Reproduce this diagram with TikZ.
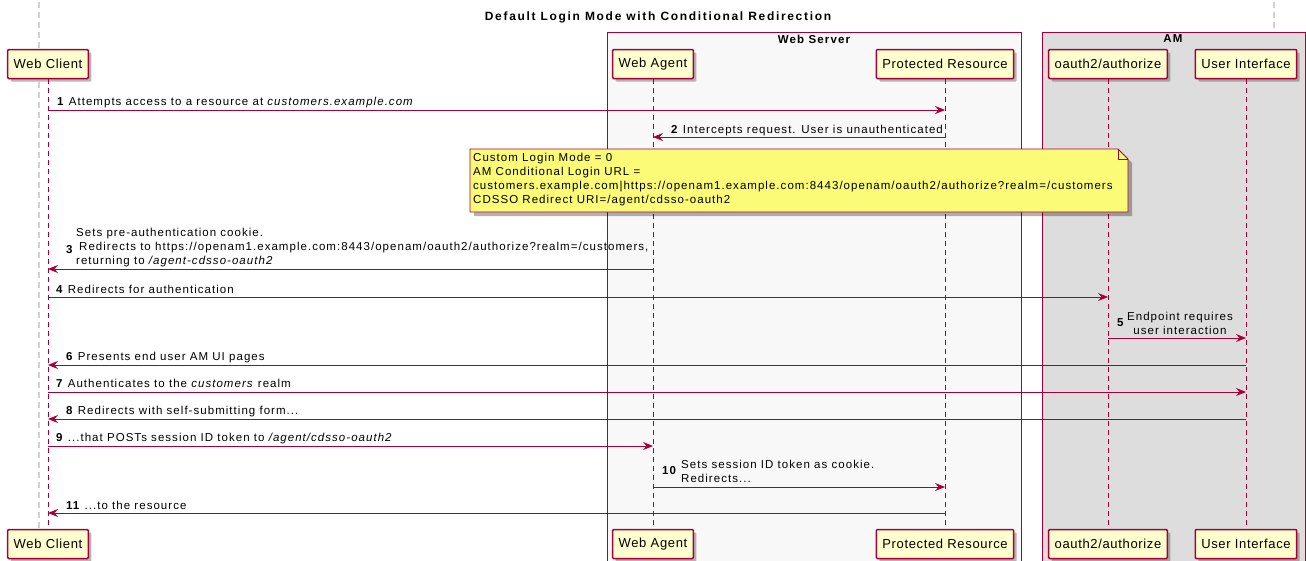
\documentclass[tikz,border=0pt]{standalone}
\usepackage{fontspec}
\setmainfont{Liberation Sans}
\newfontfamily\msgfont[LetterSpace=9]{Liberation Sans}
\newfontfamily\partfont[LetterSpace=5]{Liberation Sans}
\newfontfamily\headfont[LetterSpace=10]{Liberation Sans}
\newfontfamily\titlefont[LetterSpace=14]{Liberation Sans}
\usetikzlibrary{arrows.meta,shadows,positioning}
\definecolor{umlred}{HTML}{A80036}
\definecolor{umlfill}{HTML}{FEFECE}
\definecolor{notefill}{HTML}{FBFB77}
\definecolor{srvfill}{HTML}{F8F8F8}
\definecolor{amfill}{HTML}{DDDDDD}

\begin{document}
\begin{tikzpicture}[x=1pt, y=-1pt,
part/.style = {draw=umlred, fill=umlfill, line width=1.5pt, rounded corners=1pt,
            minimum height=29pt, inner xsep=6pt,
            font=\partfont\fontsize{13}{15}\selectfont,
            drop shadow={shadow xshift=3pt, shadow yshift=-3pt, opacity=0.4, fill=black!70}},
life/.style = {umlred, line width=0.8pt, dash pattern=on 5pt off 4pt},
msg/.style = {umlred, line width=0.9pt, -{Stealth[length=10pt, width=8pt, inset=3.5pt]}},
lbl/.style = {inner sep=0pt, anchor=base west,
            font=\msgfont\fontsize{11.5}{14}\selectfont},
head/.style = {inner sep=0pt, font=\headfont\bfseries\fontsize{11.5}{14}\selectfont},
grp/.style = {draw=umlred, line width=0.8pt}
                ]
    \useasboundingbox (0,0) rectangle (1306,560);

    % outer dashed guides
    \draw[gray!35, line width=1.5pt, dash pattern=on 6pt off 4pt] (39,2) -- (39,560);
    \draw[gray!35, line width=1.5pt, dash pattern=on 6pt off 4pt] (1274,2) -- (1274,560);

    \node[head, font=\titlefont\bfseries\fontsize{12}{14}\selectfont] at (658,17) (title)
        {Default Login Mode with Conditional Redirection};

    % groups
    \draw[grp, fill=srvfill] (607,32) rectangle (1021,566);
    \draw[grp, fill=amfill] (1042,32) rectangle (1305,566);
    \node[head] at (814,39) (srv) {Web Server};
    \node[head] at (1173,39) (am) {AM};

    % participants and lifelines
    \foreach \x/\n/\t in {48/wc/Web Client, 653/wa/Web Agent, 945/pr/Protected Resource,
                          1108/oa/{oauth2/authorize}, 1246/ui/User Interface}{
        \node[part] at (\x,64) (\n) {\t};
        \node[part] at (\x,544) (\n b) {\t};
        \draw[life] (\n) -- (\n b);
    }

    % note
    \def\nl{470} \def\nr{1128} \def\nt{149} \def\nb{212} \def\nf{10}
    \fill[black, opacity=0.3] (\nl+4,\nt+4) -- (\nr+4-\nf,\nt+4) -- (\nr+4,\nt+4+\nf)
        -- (\nr+4,\nb+4) -- (\nl+4,\nb+4) -- cycle;
    \draw[umlred, fill=notefill, line width=0.8pt] (\nl,\nt) -- (\nr-\nf,\nt) -- (\nr,\nt+\nf)
        -- (\nr,\nb) -- (\nl,\nb) -- cycle;
    \draw[umlred, line width=0.8pt] (\nr-\nf,\nt) -- (\nr-\nf,\nt+\nf) -- (\nr,\nt+\nf);
    \node[lbl, anchor=north west, align=left] at (\nl+3,\nt+4) (note) {Custom Login Mode = 0\\
        AM Conditional Login URL =\\
        customers.example.com|https://openam1.example.com:8443/openam/oauth2/authorize?realm=/customers\\
        CDSSO Redirect URI=/agent/cdsso-oauth2};

    % messages
    \foreach \y/\a/\b in {110/wc/pr, 137/pr/wa, 269/wa/wc, 297/wc/oa, 338/oa/ui, 365/ui/wc,
                          392/wc/ui, 419/ui/wc, 446/wc/wa, 487/wa/pr, 513/pr/wc}
        \draw[msg] (\a |- 0,\y) -- (\b |- 0,\y);

    \foreach \x/\y/\n/\t in {57/105/1/{Attempts access to a resource at \textit{customers.example.com}},
                             671/133/2/{Intercepts request. User is unauthenticated},
                             56/293/4/{Redirects for authentication},
                             66/360/6/{Presents end user AM UI pages},
                             56/387/7/{Authenticates to the \textit{customers} realm},
                             66/414/8/{Redirects with self-submitting form...},
                             56/441/9/{...that POSTs session ID token to \textit{/agent/cdsso-oauth2}},
                             66/509/11/{...to the resource}}
        \node[lbl] at (\x,\y) (m\n) {\textbf{\n} \t};

    \node[lbl] at (66,253) (n3) {\textbf{3}};
    \node[lbl, anchor=west, align=left] at (76,248) (m3) {Sets pre-authentication cookie.\\
        \hspace{3pt}Redirects to https://openam1.example.com:8443/openam/oauth2/authorize?realm=/customers,\\
        returning to \textit{/agent-cdsso-oauth2}};
    \node[lbl] at (1117,326) (n5) {\textbf{5}};
    \node[lbl, anchor=center, align=center] at (1180,323) (m5) {Endpoint requires\\ user interaction};
    \node[lbl] at (662,474) (n10) {\textbf{10}};
    \node[lbl, anchor=west, align=left] at (681,471) (m10) {Sets session ID token as cookie.\\ Redirects...};
\end{tikzpicture}
\end{document}
